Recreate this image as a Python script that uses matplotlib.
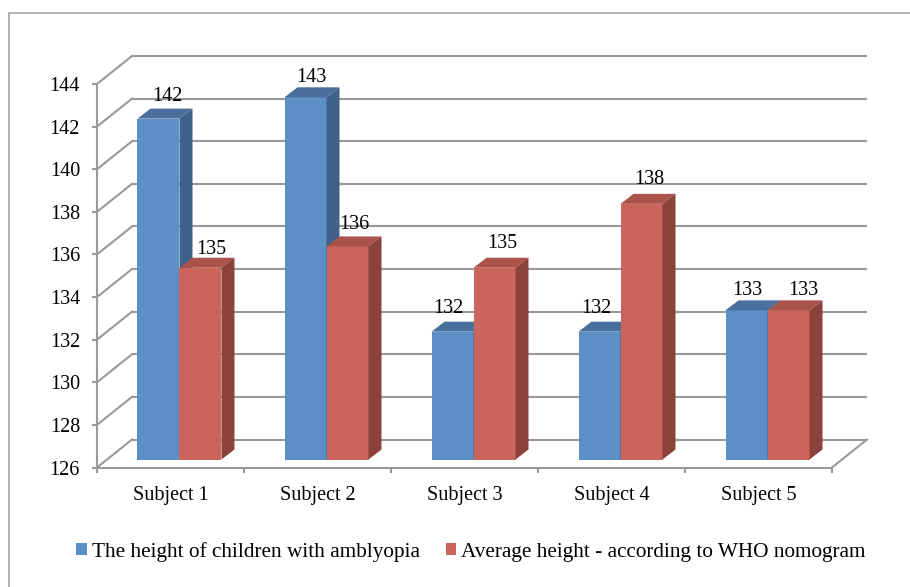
import numpy as np
import matplotlib
matplotlib.use("Agg")
import matplotlib.pyplot as plt
from matplotlib.patches import Polygon, Rectangle, Patch

plt.rcParams['font.family'] = ['Liberation Serif', 'DejaVu Serif']

# data
subjects = ['Subject 1', 'Subject 2', 'Subject 3', 'Subject 4', 'Subject 5']
amblyopia = [142, 143, 132, 132, 133]
who_avg = [135, 136, 135, 138, 133]
series_names = ['The height of children with amblyopia',
                'Average height - according to WHO nomogram']
y_ticks = list(range(126, 145, 2))

# value label nudges in pixels (x right, y up from the bar's front top)
blue_lbl_dx = [8.5, 5.5, -4.5, -3.5, 1]
blue_lbl_dy = [18, 15, 19, 19, 15]
red_lbl_dx = [10.5, 7, 7.5, 8, 14.5]
red_lbl_dy = [14, 17, 20, 20, 15]

# face colours: front, top, side
blue = ('#5B8FC6', '#4A6F9C', '#3F618B')
red = ('#CB655B', '#A9534A', '#8B423B')
grid_col = '#999999'
fs = 14.5
lw = 1.5

fig = plt.figure(figsize=(9.1, 5.87), dpi=100)
ax = fig.add_axes([97 / 910, (587 - 467.5) / 587, 735 / 910, 383.5 / 587])
ax.set_xlim(-0.5, 4.5)
ax.set_ylim(126, 144)
ax.patch.set_visible(False)

# pixel offsets -> data offsets (linear scales)
def px(dx, dy):
    inv = ax.transData.inverted()
    p0 = ax.transData.transform((0, 126))
    q = inv.transform(p0 + np.array([dx, dy]))
    return q[0], q[1] - 126

bx, by = px(35, 28)      # back wall depth
fx, fy = px(9, 8)        # bar front face depth
ex, ey = px(13, 10)      # bar depth

# back wall gridlines and left wall diagonals
for v in y_ticks:
    ax.plot([-0.5 + bx, 4.5 + bx], [v + by, v + by], color=grid_col, lw=lw,
            clip_on=False, zorder=1, solid_capstyle='butt')
    ax.plot([-0.5, -0.5 + bx], [v, v + by], color=grid_col, lw=lw,
            clip_on=False, zorder=1)
# floor right edge
ax.plot([4.5, 4.5 + bx], [126, 126 + by], color=grid_col, lw=lw,
        clip_on=False, zorder=1)

# 3d-looking columns
w = 1 / 3.5
series = [(amblyopia, blue, blue_lbl_dx, blue_lbl_dy),
          (who_avg, red, red_lbl_dx, red_lbl_dy)]
for i in range(len(subjects)):
    for s, (vals, cols, ldx, ldy) in enumerate(series):
        v = vals[i]
        x0 = i - w + s * w + fx
        x1 = x0 + w
        b = 126 + fy
        t = v + fy
        ax.add_patch(Rectangle((x0, b), w, v - 126, fc=cols[0], ec='none',
                               clip_on=False, zorder=3))
        ax.add_patch(Polygon([(x0, t), (x1, t), (x1 + ex, t + ey), (x0 + ex, t + ey)],
                             closed=True, fc=cols[1], ec='none', clip_on=False, zorder=3))
        ax.add_patch(Polygon([(x1, b), (x1, t), (x1 + ex, t + ey), (x1 + ex, b + ey)],
                             closed=True, fc=cols[2], ec='none', clip_on=False, zorder=3))
        lx, ly = px(ldx[i], ldy[i])
        ax.text((x0 + x1) / 2 + lx, t + ly, str(v), ha='center', va='baseline',
                fontsize=fs, color='black', zorder=4, clip_on=False)

# axes styling
for sp in ['top', 'right']:
    ax.spines[sp].set_visible(False)
for sp in ['left', 'bottom']:
    ax.spines[sp].set_color(grid_col)
    ax.spines[sp].set_linewidth(lw)
    ax.spines[sp].set_zorder(2)

ax.set_yticks(y_ticks)
ax.set_yticklabels([str(t) for t in y_ticks], fontsize=fs)
ax.tick_params(axis='y', length=3.6, width=lw, color=grid_col, pad=8.6)

ax.set_xticks(range(len(subjects)))
ax.set_xticklabels(subjects, fontsize=fs)
ax.set_xticks(np.arange(-0.5, 5, 1), minor=True)
ax.tick_params(axis='x', which='major', length=0, pad=13.5)
ax.tick_params(axis='x', which='minor', length=3.6, width=lw, color=grid_col)

# outer chart frame
fig.patches.append(Rectangle((9 / 910, -0.1), 1.0, (587 - 13) / 587 + 0.1,
                             transform=fig.transFigure, fill=False,
                             ec='#A6A6A6', lw=1.2))

handles = [Patch(fc=blue[0], ec='none'), Patch(fc=red[0], ec='none')]
fig.legend(handles, series_names, loc='center', bbox_to_anchor=(471 / 910, 35 / 587),
           ncol=2, frameon=False, fontsize=15.3, handlelength=0.5, handleheight=0.5,
           handletextpad=0.25, columnspacing=1.2, borderpad=0)

fig.savefig('out.png', dpi=100)
